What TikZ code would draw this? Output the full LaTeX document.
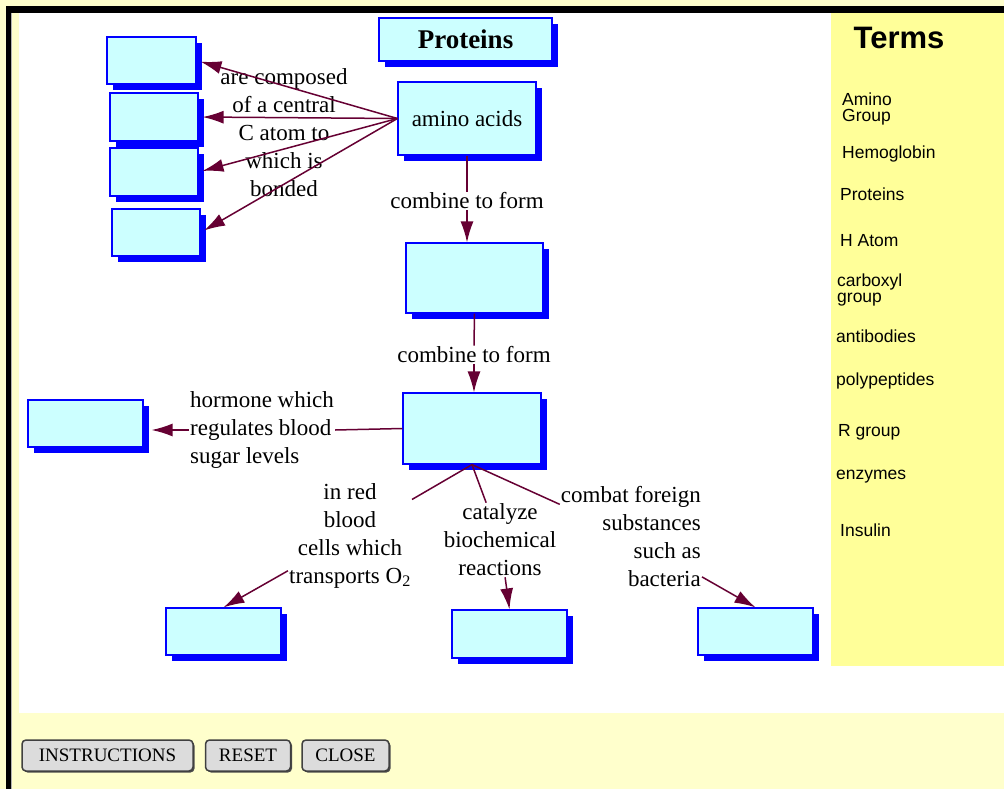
\documentclass[tikz,border=0pt]{standalone}
\usepackage{fontspec}
\setmainfont{Liberation Serif}
\setsansfont{Liberation Sans}
\usepackage{xcolor}
\definecolor{pagebg}{HTML}{FFFFCC}
\definecolor{termsbg}{HTML}{FFFF99}
\definecolor{boxfill}{HTML}{CCFFFF}
\definecolor{boxline}{HTML}{0000FF}
\definecolor{linkcol}{HTML}{660033}
\definecolor{btnfill}{HTML}{DCDCDC}
\usetikzlibrary{arrows.meta,positioning,shadows}
\newcommand{\lblfont}{\fontsize{23}{28}\selectfont}
\newcommand{\termfont}{\sffamily\fontsize{17.5}{16}\selectfont}

\begin{document}
\begin{tikzpicture}[x=1pt, y=-1pt,
  box/.style={draw=boxline, fill=boxfill, line width=1.2pt, inner sep=0pt,
    drop shadow={shadow xshift=6pt, shadow yshift=-6pt, fill=boxline, opacity=1}},
  lbl/.style={font=\lblfont, align=center, inner sep=1pt},
  link/.style={draw=linkcol, line width=1.5pt},
  arr/.style={link, -{Latex[length=21pt, width=13pt]}},
  term/.style={font=\termfont, align=left, anchor=west, inner sep=0pt},
  btn/.style={draw=black!75, fill=btnfill, line width=1.5pt, rounded corners=4pt, minimum height=31pt, inner sep=0pt, font=\fontsize{19}{19}\selectfont,
    drop shadow={shadow xshift=1.5pt, shadow yshift=-1.5pt, fill=black!70, opacity=1}}
]
\useasboundingbox (0,0) rectangle (1004,789);
% window frame
\fill[pagebg] (0,0) rectangle (1004,789);
\fill[white] (19,13) rectangle (1004,713);
\fill[termsbg] (831,13) rectangle (1004,666);
\fill[black] (6,6) rectangle (1004,13);
\fill[black] (6,6) rectangle (11,789);
\draw[gray!60, line width=1pt] (11.5,13) -- (11.5,789);

% concept boxes
\node[box, minimum width=173pt, minimum height=43pt, font=\fontsize{27}{30}\selectfont\bfseries] (title) at (465.5,39.5) {Proteins};
\node[box, minimum width=138pt, minimum height=73pt, font=\lblfont] (aa) at (467,118.5) {amino acids};
\node[box, minimum width=89pt, minimum height=47pt] (b1) at (151.5,60.5) {};
\node[box, minimum width=88pt, minimum height=48pt] (b2) at (154,117) {};
\node[box, minimum width=88pt, minimum height=48pt] (b3) at (154,172) {};
\node[box, minimum width=88pt, minimum height=47pt] (b4) at (156,232.5) {};
\node[box, minimum width=137pt, minimum height=70pt] (m1) at (474.5,278) {};
\node[box, minimum width=138pt, minimum height=71pt] (m2) at (472,428.5) {};
\node[box, minimum width=115pt, minimum height=47pt] (hb) at (85.5,423.5) {};
\node[box, minimum width=115pt, minimum height=47pt] (c1) at (223.5,631.5) {};
\node[box, minimum width=115pt, minimum height=48pt] (c2) at (509.5,634) {};
\node[box, minimum width=115pt, minimum height=47pt] (c3) at (755.5,631.5) {};

% link labels
\node[lbl] (fanlbl) at (284,133) {are composed\\of a central\\C atom to\\which is\\bonded};
\node[lbl] (cf1) at (467,201) {combine to form};
\node[lbl] (cf2) at (474,355) {combine to form};
\node[lbl, align=left, anchor=west] (hlbl) at (189,430) {hormone which\\regulates blood\\sugar levels};
\node[lbl] (rbc) at (350,535.5) {in red\\blood\\cells which\\transports O\textsubscript{2}};
\node[lbl] (cat) at (500,540) {catalyze\\biochemical\\reactions};
\node[lbl, align=right, anchor=east] (comb) at (702,536.5) {combat foreign\\substances\\such as\\bacteria};

% links
\draw[arr, shorten >=4pt] (aa.west) -- (b1.east);
\draw[arr, shorten >=4pt] (aa.west) -- (b2.east);
\draw[arr, shorten >=4pt] (aa.west) -- (b3.east);
\draw[arr, shorten >=4pt] (aa.west) -- (b4.east);
\draw[link] (aa) -- (cf1);
\draw[arr] (cf1.south) -- (cf1.south |- m1.north);
\draw[link] (m1.south) -- (cf2.north);
\draw[arr] (cf2.south) -- (cf2.south |- m2.north);
\draw[link] (m2.west) -- (hlbl.east);
\draw[arr, shorten >=8pt] (hlbl.west) -- (hlbl.west -| hb.east);
\draw[link] (m2.south) -- (rbc);
\draw[link] (m2.south) -- (cat);
\draw[link] (m2.south) -- (comb);
\draw[arr] (rbc) -- (c1.north);
\draw[arr] (cat) -- (c2.north);
\draw[arr] (comb) -- (c3.north);

% terms panel
\node[font=\sffamily\bfseries\fontsize{31}{31}\selectfont, inner sep=0pt] (terms) at (899,38) {Terms};
\node[term] (t1) at (842,108.5) {Amino\\Group};
\node[term] (t2) at (842,154) {Hemoglobin};
\node[term] (t3) at (840,194) {Proteins};
\node[term] (t4) at (840,241) {H Atom};
\node[term] (t5) at (837,290) {carboxyl\\group};
\node[term] (t6) at (836,336) {antibodies};
\node[term] (t7) at (836,381) {polypeptides};
\node[term] (t8) at (838,432) {R group};
\node[term] (t9) at (836,477) {enzymes};
\node[term] (t10) at (840,530) {Insulin};

% buttons
\node[btn, minimum width=171pt] (instr) at (107.5,755.5) {INSTRUCTIONS};
\node[btn, minimum width=85pt, right=11pt of instr] (reset) {RESET};
\node[btn, minimum width=87pt, right=10pt of reset] (close) {CLOSE};
\end{tikzpicture}
\end{document}
